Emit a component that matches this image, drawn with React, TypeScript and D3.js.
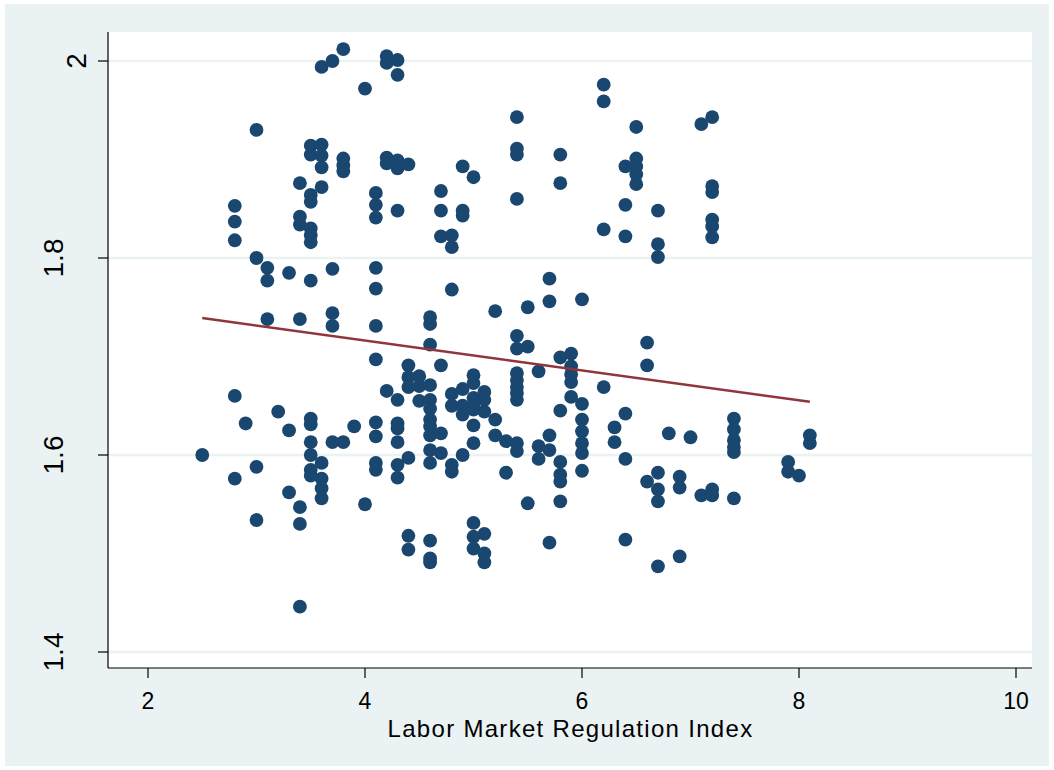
import React, { useEffect, useRef } from 'react';
import * as d3 from 'd3';

// Labor Market Regulation Index (x) and outcome (y), one entry per country-year
const regIndex = [
  2.5,
  2.8, 2.8, 2.8, 2.8, 2.8,
  2.9,
  3.0, 3.0, 3.0, 3.0,
  3.1, 3.1, 3.1,
  3.2,
  3.3, 3.3, 3.3,
  3.4, 3.4, 3.4, 3.4, 3.4, 3.4, 3.4,
  3.5, 3.5, 3.5, 3.5, 3.5, 3.5, 3.5, 3.5, 3.5, 3.5, 3.5, 3.5, 3.5, 3.5,
  3.6, 3.6, 3.6, 3.6, 3.6, 3.6, 3.6, 3.6, 3.6,
  3.7, 3.7, 3.7, 3.7, 3.7,
  3.8, 3.8, 3.8, 3.8, 3.8,
  3.9,
  4.0, 4.0,
  4.1, 4.1, 4.1, 4.1, 4.1, 4.1, 4.1, 4.1, 4.1, 4.1, 4.1,
  4.2, 4.2, 4.2, 4.2, 4.2,
  4.3, 4.3, 4.3, 4.3, 4.3, 4.3, 4.3, 4.3, 4.3, 4.3, 4.3,
  4.4, 4.4, 4.4, 4.4, 4.4, 4.4, 4.4,
  4.5, 4.5, 4.5,
  4.6, 4.6, 4.6, 4.6, 4.6, 4.6, 4.6, 4.6, 4.6, 4.6, 4.6, 4.6, 4.6, 4.6,
  4.7, 4.7, 4.7, 4.7, 4.7, 4.7,
  4.8, 4.8, 4.8, 4.8, 4.8, 4.8, 4.8,
  4.9, 4.9, 4.9, 4.9, 4.9, 4.9, 4.9,
  5.0, 5.0, 5.0, 5.0, 5.0, 5.0, 5.0, 5.0, 5.0, 5.0, 5.0,
  5.1, 5.1, 5.1, 5.1, 5.1, 5.1,
  5.2, 5.2, 5.2,
  5.3, 5.3,
  5.4, 5.4, 5.4, 5.4, 5.4, 5.4, 5.4, 5.4, 5.4, 5.4, 5.4, 5.4, 5.4,
  5.5, 5.5, 5.5,
  5.6, 5.6, 5.6,
  5.7, 5.7, 5.7, 5.7, 5.7,
  5.8, 5.8, 5.8, 5.8, 5.8, 5.8, 5.8, 5.8,
  5.9, 5.9, 5.9, 5.9, 5.9,
  6.0, 6.0, 6.0, 6.0, 6.0, 6.0, 6.0,
  6.2, 6.2, 6.2, 6.2,
  6.3, 6.3,
  6.4, 6.4, 6.4, 6.4, 6.4, 6.4,
  6.5, 6.5, 6.5, 6.5, 6.5,
  6.6, 6.6, 6.6,
  6.7, 6.7, 6.7, 6.7, 6.7, 6.7, 6.7,
  6.8,
  6.9, 6.9, 6.9,
  7.0,
  7.1, 7.1,
  7.2, 7.2, 7.2, 7.2, 7.2, 7.2, 7.2, 7.2,
  7.4, 7.4, 7.4, 7.4, 7.4, 7.4,
  7.9, 7.9,
  8.0,
  8.1, 8.1
];

const outcome = [
  1.600,
  1.853, 1.837, 1.818, 1.660, 1.576,
  1.632,
  1.930, 1.800, 1.588, 1.534,
  1.790, 1.777, 1.738,
  1.644,
  1.785, 1.625, 1.562,
  1.876, 1.842, 1.834, 1.738, 1.547, 1.530, 1.446,
  1.914, 1.905, 1.864, 1.857, 1.830, 1.823, 1.816, 1.777, 1.637, 1.631, 1.613, 1.600, 1.585, 1.579,
  1.994, 1.915, 1.904, 1.892, 1.872, 1.592, 1.576, 1.566, 1.556,
  2.000, 1.789, 1.744, 1.731, 1.613,
  2.012, 1.901, 1.894, 1.888, 1.613,
  1.629,
  1.972, 1.550,
  1.866, 1.854, 1.841, 1.790, 1.769, 1.731, 1.697, 1.633, 1.619, 1.592, 1.585,
  2.005, 1.998, 1.902, 1.896, 1.665,
  2.001, 1.986, 1.899, 1.891, 1.848, 1.656, 1.632, 1.627, 1.613, 1.590, 1.577,
  1.895, 1.691, 1.679, 1.669, 1.597, 1.518, 1.504,
  1.680, 1.670, 1.655,
  1.740, 1.733, 1.712, 1.671, 1.656, 1.647, 1.636, 1.629, 1.620, 1.605, 1.592, 1.513, 1.495, 1.491,
  1.868, 1.848, 1.822, 1.691, 1.622, 1.602,
  1.823, 1.811, 1.768, 1.662, 1.650, 1.590, 1.583,
  1.893, 1.848, 1.843, 1.667, 1.650, 1.641, 1.600,
  1.882, 1.681, 1.673, 1.658, 1.649, 1.646, 1.630, 1.612, 1.531, 1.517, 1.505,
  1.664, 1.656, 1.644, 1.520, 1.500, 1.491,
  1.746, 1.636, 1.620,
  1.614, 1.582,
  1.943, 1.911, 1.905, 1.860, 1.721, 1.708, 1.683, 1.676, 1.669, 1.663, 1.656, 1.612, 1.604,
  1.750, 1.710, 1.551,
  1.685, 1.609, 1.596,
  1.779, 1.756, 1.620, 1.605, 1.511,
  1.905, 1.876, 1.699, 1.645, 1.593, 1.580, 1.573, 1.553,
  1.703, 1.690, 1.682, 1.674, 1.659,
  1.758, 1.652, 1.636, 1.624, 1.612, 1.602, 1.584,
  1.976, 1.959, 1.829, 1.669,
  1.628, 1.613,
  1.893, 1.854, 1.822, 1.642, 1.596, 1.514,
  1.933, 1.901, 1.893, 1.885, 1.875,
  1.714, 1.691, 1.573,
  1.848, 1.814, 1.801, 1.582, 1.565, 1.553, 1.487,
  1.622,
  1.578, 1.567, 1.497,
  1.618,
  1.936, 1.559,
  1.943, 1.873, 1.867, 1.839, 1.832, 1.821, 1.565, 1.559,
  1.637, 1.626, 1.615, 1.608, 1.603, 1.556,
  1.593, 1.583,
  1.579,
  1.620, 1.612
];

// linear fit endpoints
const fitX = [2.5, 8.1];
const fitY = [1.739, 1.654];

const xTicks = [2, 4, 6, 8, 10];
const yTicks = [1.4, 1.6, 1.8, 2];
const xTitle = 'Labor Market Regulation Index';

const W = 1054;
const H = 770;
const FONT = '"Liberation Sans", Arial, Helvetica, sans-serif';

const App = () => {
  const svgRef = useRef<SVGSVGElement>(null);

  useEffect(() => {
    const svg = d3.select(svgRef.current);
    svg.selectAll('*').remove();

    // area of the plot region
    const plot = { left: 108, right: 1032, top: 32, bottom: 668 };

    const x = d3.scaleLinear().domain([2, 10]).range([148, 1016]);
    const y = d3.scaleLinear().domain([1.4, 2]).range([652, 61]);

    // outer (graph) background
    svg.append('rect')
      .attr('x', 5).attr('y', 4)
      .attr('width', W - 10).attr('height', H - 8)
      .attr('fill', '#eaf2f3');

    // plot region
    svg.append('rect')
      .attr('x', plot.left).attr('y', plot.top)
      .attr('width', plot.right - plot.left).attr('height', plot.bottom - plot.top)
      .attr('fill', '#ffffff');

    // grid lines
    svg.append('g')
      .selectAll('line')
      .data(yTicks)
      .join('line')
      .attr('x1', plot.left).attr('x2', plot.right)
      .attr('y1', d => y(d)).attr('y2', d => y(d))
      .attr('stroke', '#eaf2f3')
      .attr('stroke-width', 2.5);

    // points
    svg.append('g')
      .selectAll('circle')
      .data(regIndex.map((v, i) => [v, outcome[i]]))
      .join('circle')
      .attr('cx', d => x(d[0]))
      .attr('cy', d => y(d[1]))
      .attr('r', 6.9)
      .attr('fill', '#1a476f');

    // fitted line
    const line = d3.line<number>()
      .x(d => x(fitX[d]))
      .y(d => y(fitY[d]));
    svg.append('path')
      .attr('d', line(fitX.map((_, i) => i)))
      .attr('fill', 'none')
      .attr('stroke', '#90353b')
      .attr('stroke-width', 2.5);

    // axes (Stata style: only left and bottom)
    const axisColor = '#000000';
    svg.append('line')
      .attr('x1', plot.left).attr('x2', plot.left)
      .attr('y1', plot.top).attr('y2', plot.bottom)
      .attr('stroke', axisColor).attr('stroke-width', 1.2);
    svg.append('line')
      .attr('x1', plot.left).attr('x2', plot.right)
      .attr('y1', plot.bottom).attr('y2', plot.bottom)
      .attr('stroke', axisColor).attr('stroke-width', 1.2);

    // y ticks + vertical labels (right-justified before rotation, like Stata)
    const yAxis = svg.append('g');
    yTicks.forEach(t => {
      yAxis.append('line')
        .attr('x1', plot.left - 10).attr('x2', plot.left)
        .attr('y1', y(t)).attr('y2', y(t))
        .attr('stroke', axisColor).attr('stroke-width', 1.2);
      const label = yAxis.append('text')
        .attr('font-family', FONT)
        .attr('font-size', 28)
        .attr('fill', '#000')
        .attr('text-anchor', 'middle')
        .text(String(t));
      const len = (label.node() as SVGTextElement).getComputedTextLength();
      const bx = 102 - len;
      label.attr('transform', `translate(${bx},${y(t)}) rotate(-90)`);
    });

    // x ticks + labels
    const xAxis = svg.append('g');
    xTicks.forEach(t => {
      xAxis.append('line')
        .attr('x1', x(t)).attr('x2', x(t))
        .attr('y1', plot.bottom).attr('y2', plot.bottom + 10)
        .attr('stroke', axisColor).attr('stroke-width', 1.2);
      xAxis.append('text')
        .attr('x', x(t))
        .attr('y', 709)
        .attr('font-family', FONT)
        .attr('font-size', 23)
        .attr('text-anchor', 'middle')
        .attr('fill', '#000')
        .text(String(t));
    });

    // x axis title
    svg.append('text')
      .attr('x', (plot.left + plot.right) / 2 + 0.5)
      .attr('y', 737)
      .attr('font-family', FONT)
      .attr('font-size', 24)
      .attr('letter-spacing', 1.3)
      .attr('text-anchor', 'middle')
      .attr('fill', '#000')
      .text(xTitle);
  }, []);

  return (
    <div style={{ position: 'absolute', left: 0, top: 0, width: W, height: H, background: '#ffffff' }}>
      <svg ref={svgRef} width={W} height={H} style={{ display: 'block' }} />
    </div>
  );
};

export default App;
